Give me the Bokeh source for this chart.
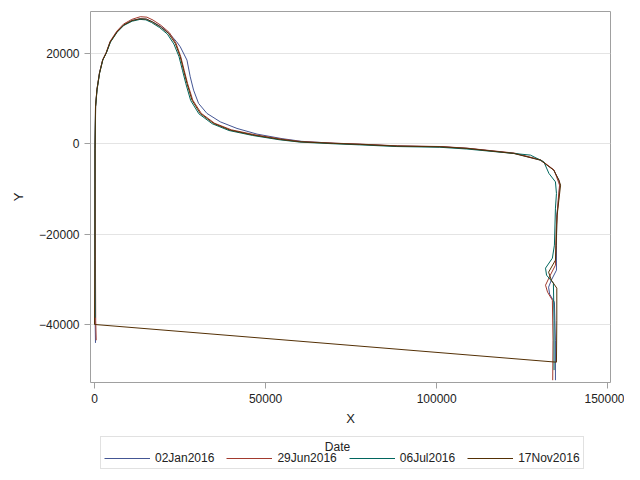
from bokeh.plotting import figure
from bokeh.layouts import column
from bokeh.models import Legend, LegendItem, Label, FixedTicker, Range1d, BasicTickFormatter
from bokeh.embed import file_html
from bokeh.resources import INLINE

# ---- data ----
dates = ["02Jan2016", "29Jun2016", "06Jul2016", "17Nov2016"]
colors = ["#445694", "#A23A2E", "#01665E", "#543005"]

x_jan = [290, 200, 120, 100, 300, 700, 1450, 2400, 3400, 4600, 6550, 8500, 10950, 13300, 15200, 17000,
         19500, 22000, 24000, 25060, 27020, 27980, 28950, 30410, 32870, 36760, 41640, 47500, 54800, 60500,
         70000, 77800, 88500, 101200, 109000, 122600, 130300, 134200, 135700, 136000, 135600, 135100,
         135000, 135000, 133500, 132700, 133000, 134400, 134700, 134700]
y_jan = [-44080, -40000, -20000, -1000, 8200, 12000, 15700, 18600, 20100, 22600, 24800, 26300, 27300,
         27700, 27600, 27000, 25900, 24300, 22600, 21490, 18540, 14840, 11890, 8950, 6730, 4870, 3410,
         2150, 1150, 550, 130, -100, -480, -640, -1000, -2100, -3600, -5800, -8000, -9100, -12400,
         -15700, -22440, -27980, -30190, -31740, -33290, -35060, -43480, -52340]

x_jun = [500, 350, 250, 200, 330, 720, 1450, 2380, 3400, 4580, 6520, 8450, 10900, 13400, 15300, 17100,
         19500, 21900, 23800, 25200, 26200, 27200, 28700, 31200, 35100, 40000, 46900, 54600, 60400,
         70000, 78000, 88600, 101300, 109100, 122700, 130400, 134300, 135600, 135900, 135500, 134900,
         134700, 133200, 131800, 132400, 133800, 134000, 133900]
y_jun = [-43500, -39050, -20000, -1200, 8200, 12000, 15700, 18600, 20200, 22700, 24950, 26500, 27550,
         28150, 28050, 27400, 26200, 24600, 22300, 19300, 16300, 13350, 9700, 6750, 4550, 3100, 2000,
         1050, 500, 150, -80, -450, -600, -980, -2050, -3550, -5800, -8480, -9150, -12470, -19110,
         -26870, -29080, -31300, -32850, -34620, -43480, -52340]

x_jul = [200, 120, 160, 330, 760, 1500, 2450, 3450, 4650, 6600, 8550, 11000, 13300, 15000, 16700, 19000,
         21300, 23200, 24700, 25700, 26700, 28100, 30500, 34400, 39300, 46200, 54000, 60000, 69500,
         77500, 88200, 100900, 108800, 122500, 127400, 131300, 132800, 134700, 135000, 134700, 134400,
         133800, 131800, 132100, 134100, 134300, 134300]
y_jul = [-38500, -25000, -1000, 8300, 12000, 15700, 18600, 20100, 22500, 24700, 26200, 27150, 27550,
         27450, 26850, 25750, 24300, 22100, 19300, 16300, 13300, 9600, 6650, 4450, 2950, 1850, 900, 380,
         20, -230, -600, -760, -1150, -2130, -2500, -3990, -6560, -8420, -10990, -14240, -22440, -25320,
         -27530, -29080, -30850, -39050, -50100]

x_nov = [0, 100, 150, 290, 700, 1460, 2400, 3420, 4590, 6550, 8480, 10940, 13360, 15120, 16870, 19210,
         21640, 23600, 25060, 26020, 27020, 28480, 30900, 34800, 39640, 46500, 54300, 60100, 69800,
         77700, 88400, 101100, 108900, 122500, 130300, 134200, 135700, 136200, 135700, 135200, 134900,
         134700, 132700, 133500, 135100, 135100, 135000, 0]
y_nov = [-40000, -25800, -1400, 8200, 11900, 15600, 18540, 20090, 22530, 24740, 26290, 27290, 27690,
         27620, 27020, 25920, 24450, 22240, 19270, 16320, 13380, 9680, 6730, 4520, 3030, 1930, 970, 440,
         90, -130, -510, -660, -1020, -2130, -3610, -5830, -8040, -9150, -12470, -15790, -22440, -25760,
         -28420, -30190, -31960, -39050, -48350, -40000]

x_ticks = [0, 50000, 100000, 150000]
y_ticks = [-40000, -20000, 0, 20000]

series_x = [x_jan, x_jun, x_jul, x_nov]
series_y = [y_jan, y_jun, y_jul, y_nov]

FONT = "Liberation Sans"
TXT = "#222222"

# ---- main plot ----
p = figure(width=624, height=432, output_backend="svg", toolbar_location=None,
           x_range=Range1d(-1170, 150790), y_range=Range1d(-52850, 29300),
           min_border_left=90, min_border_right=14, min_border_top=11, min_border_bottom=50,
           x_axis_label="X", y_axis_label="Y")

for xs, ys, c in zip(series_x, series_y, colors):
    p.line(xs, ys, line_color=c, line_width=1)

p.background_fill_color = "white"
p.border_fill_color = "white"
p.outline_line_color = "#a0a0a0"
p.outline_line_width = 1

p.xgrid.visible = False
p.ygrid.grid_line_color = "#e4e4e4"
p.ygrid.grid_line_width = 1

p.xaxis.ticker = FixedTicker(ticks=x_ticks)
p.yaxis.ticker = FixedTicker(ticks=y_ticks)
for ax in (p.xaxis[0], p.yaxis[0]):
    ax.formatter = BasicTickFormatter(use_scientific=False)
    ax.axis_line_color = None
    ax.major_tick_line_color = "#a0a0a0"
    ax.major_tick_out = 6
    ax.major_tick_in = 0
    ax.minor_tick_line_color = None
    ax.major_label_text_font = FONT
    ax.major_label_text_font_size = "12px"
    ax.major_label_text_color = TXT
    ax.major_label_standoff = 5
    ax.axis_label_text_font = FONT
    ax.axis_label_text_font_size = "13px"
    ax.axis_label_text_font_style = "normal"
    ax.axis_label_text_color = TXT
p.xaxis.axis_label_standoff = 5
p.yaxis.axis_label_standoff = 10

# ---- legend strip (frame aligned with main plot's frame) ----
p2 = figure(width=624, height=40, output_backend="svg", toolbar_location=None,
            x_range=Range1d(0, 1), y_range=Range1d(0, 1),
            min_border_left=90, min_border_right=14, min_border_top=0, min_border_bottom=0,
            outline_line_color=None)
p2.axis.visible = False
p2.grid.visible = False
p2.background_fill_color = "white"
p2.border_fill_color = "white"

dummies = [p2.line([0], [0], line_color=c, line_width=1) for c in colors]
items = [LegendItem(label=d, renderers=[r]) for d, r in zip(dates, dummies)]
leg = Legend(items=items, orientation="horizontal", location=(10, 3), title=" ",
             title_text_font=FONT, title_text_font_size="10px", title_standoff=0,
             label_text_font=FONT, label_text_font_size="12px", label_text_color=TXT,
             glyph_width=46, glyph_height=12, label_height=12, label_standoff=5,
             spacing=12, padding=3, margin=0,
             border_line_color="#c4c4c4", border_line_width=1,
             background_fill_alpha=0)
p2.add_layout(leg, "center")
p2.add_layout(Label(x=247, y=26, x_units="screen", y_units="screen", text="Date",
                    text_font=FONT, text_font_size="12px", text_color=TXT,
                    text_align="center", text_baseline="middle", level="overlay"))

layout = column(p, p2, spacing=0)
open("out.html", "w").write(file_html(layout, INLINE))
